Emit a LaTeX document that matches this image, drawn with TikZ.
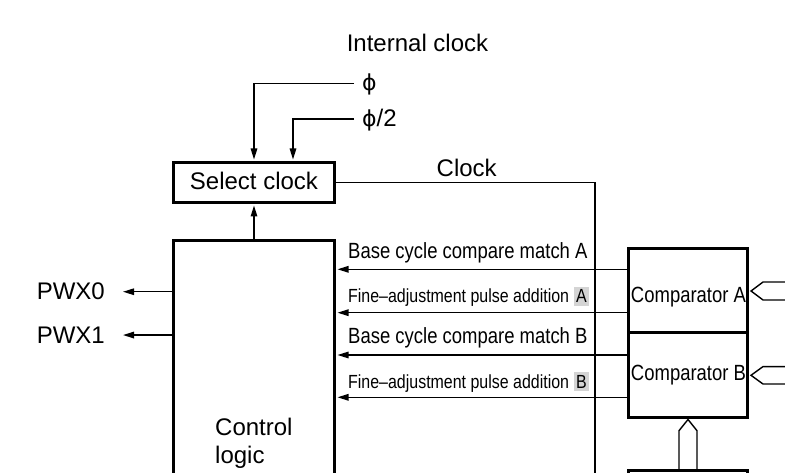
\documentclass[tikz,border=0pt]{standalone}
\usepackage{fontspec}
\setmainfont{Liberation Sans}
\newfontfamily\narrowfont[FakeStretch=0.84]{Liberation Sans}
\newfontfamily\phifont{DejaVu Sans}
\usetikzlibrary{arrows.meta,calc}
\definecolor{hl}{RGB}{212,212,212}
\newcommand{\hlbox}[1]{{\setlength{\fboxsep}{2.5pt}\colorbox{hl}{#1}}}
\newcommand{\myphi}{{\phifont\fontsize{22}{26}\selectfont ϕ}}
\begin{document}
\begin{tikzpicture}[x=1pt,y=-1pt,
  thinline/.style={line width=1.4pt},
  box/.style={draw, line width=3pt, rectangle, inner sep=0pt, minimum width=119pt},
  sig/.style={line width=1.4pt, -{Triangle[length=11pt,width=6.5pt]}},
  bus/.style={line width=1.4pt, line join=miter},
  lbl/.style={inner sep=0pt, font=\fontsize{24}{28}\selectfont},
  nlbl/.style={inner sep=0pt, font=\narrowfont\fontsize{22}{26}\selectfont},
  flbl/.style={inner sep=0pt, font=\narrowfont\fontsize{19}{22}\selectfont},
]
\useasboundingbox (0,0) rectangle (785,473);
\clip (0,0) rectangle (785,473);

% boxes
\node[box, minimum width=161pt, minimum height=40pt] (sel) at (254,182.5) {};
\node[box, minimum width=161pt, minimum height=460pt] (ctl) at (254,470.5) {};
\node[box, minimum height=83.5pt] (compA) at (688,290.25) {};
\node[box, minimum height=85pt] (compB) at (688,374.5) {};
\node[box, minimum height=100pt] (bot) at (688,520.5) {};

% box texts
\node[lbl, anchor=base] (seltext) at (254,189.3) {Select clock};
\node[lbl, anchor=base west] (ctltext1) at (215,435) {Control};
\node[lbl, anchor=base west] (ctltext2) at (215,463.3) {logic};
\node[nlbl, anchor=base] (compAtext) at (688.5,302) {Comparator A};
\node[nlbl, anchor=base] (compBtext) at (688.5,380.7) {Comparator B};

% clock inputs
\node[lbl, anchor=base] (intclk) at (417.5,52) {Internal clock};
\node[lbl, anchor=base west] (phi) at (362,91) {\myphi};
\node[lbl, anchor=base west] (phi2) at (362,127) {\myphi/2};
\coordinate (phiend) at (354,83.3);
\coordinate (phi2end) at (354,119);
\draw[sig, shorten >=1.5pt] (phiend) -| (sel.north);
\draw[sig, shorten >=1.5pt] (phi2end) -| ([xshift=39pt]sel.north);

% control to select clock
\draw[sig, shorten >=1.5pt] (ctl.north) -- (sel.south);

% clock line
\coordinate (clkend) at (595,480);
\draw[thinline] (sel.east) -- (sel.east -| clkend) -- (clkend);
\node[lbl, anchor=base] (clklbl) at (466.7,177) {Clock};

% signals from comparators
\coordinate (yA1) at (0,269.3);
\coordinate (yA2) at (0,312.7);
\coordinate (yB1) at (0,355);
\coordinate (yB2) at (0,397.3);
\draw[sig, shorten >=1.5pt] (compA.west |- yA1) -- (ctl.east |- yA1);
\draw[sig, shorten >=1.5pt] (compA.west |- yA2) -- (ctl.east |- yA2);
\draw[sig, shorten >=1.5pt] (compB.west |- yB1) -- (ctl.east |- yB1);
\draw[sig, shorten >=1.5pt] (compB.west |- yB2) -- (ctl.east |- yB2);
\node[nlbl, anchor=base west] (lA1) at (348,258.3) {Base cycle compare match A};
\node[flbl, anchor=base west] (lA2) at (348,303) {Fine–adjustment pulse addition \hlbox{A}};
\node[nlbl, anchor=base west] (lB1) at (348,344) {Base cycle compare match B};
\node[flbl, anchor=base west] (lB2) at (348,388) {Fine–adjustment pulse addition \hlbox{B}};

% outputs
\node[lbl, anchor=base east] (pwx0) at (105,300) {PWX0};
\node[lbl, anchor=base east] (pwx1) at (105,343.3) {PWX1};
\draw[sig, shorten >=1pt] (ctl.west |- pwx0.east) -- ([xshift=17pt]pwx0.east);
\draw[sig, shorten >=1pt] (ctl.west |- pwx1.east) -- ([xshift=17pt]pwx1.east);

% bus arrows
\coordinate (tipA) at (751,291);
\coordinate (tipB) at (751,375.3);
\coordinate (tipC) at (688,419.5);
\draw[bus] ($(tipA)+(40,-9)$) -- ++(-28,0) -- (tipA) -- ++(12,9) -- ++(28,0);
\draw[bus] ($(tipB)+(40,-8.7)$) -- ++(-28,0) -- (tipB) -- ++(12,8.7) -- ++(28,0);
\draw[bus] (bot.north -| 679,0) -- (679,430.7) -- (tipC) -- (697,430.7) -- (bot.north -| 697,0);
\end{tikzpicture}
\end{document}
